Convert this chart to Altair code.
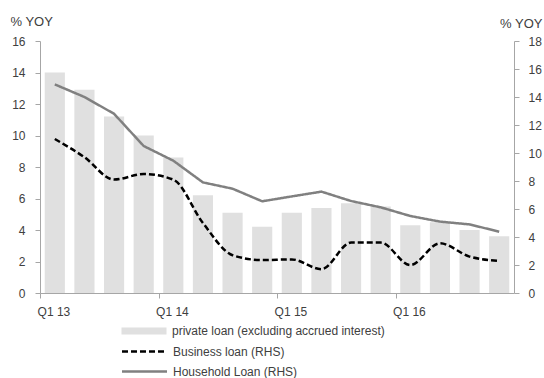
import altair as alt
import pandas as pd

quarters = ["Q1 13", "Q2 13", "Q3 13", "Q4 13",
            "Q1 14", "Q2 14", "Q3 14", "Q4 14",
            "Q1 15", "Q2 15", "Q3 15", "Q4 15",
            "Q1 16", "Q2 16", "Q3 16", "Q4 16"]
private_loan = [14.0, 12.9, 11.2, 10.0, 8.6, 6.2, 5.1, 4.2,
                5.1, 5.4, 5.7, 5.5, 4.3, 4.5, 4.0, 3.6]
business_loan = [11.0, 9.7, 8.1, 8.5, 8.1, 5.0, 2.7, 2.35,
                 2.4, 1.7, 3.6, 3.6, 2.0, 3.55, 2.6, 2.3]
household_loan = [14.9, 14.0, 12.8, 10.5, 9.45, 7.9, 7.45, 6.55,
                  6.9, 7.24, 6.57, 6.12, 5.5, 5.1, 4.9, 4.38]
tick_quarters = ["Q1 13", "Q1 14", "Q1 15", "Q1 16"]

S_PRIV = "private loan (excluding accrued interest)"
S_BUS = "Business loan (RHS)"
S_HH = "Household Loan (RHS)"

bars_df = pd.DataFrame({"quarter": quarters, "value": private_loan, "series": S_PRIV})
bus_df = pd.DataFrame({"quarter": quarters, "value": business_loan, "series": S_BUS})
hh_df = pd.DataFrame({"quarter": quarters, "value": household_loan, "series": S_HH})

FONT = "Liberation Sans"
TEXT = "#404040"
AXIS_C = "#a6a6a6"

common_legend = dict(
    title=None, orient="none", direction="vertical", symbolSize=100,
    symbolOffset=16, labelOffset=22, labelFont=FONT, labelFontSize=12,
    labelColor=TEXT, rowPadding=7, padding=0, labelLimit=400,
)

bar_legend = alt.Legend(legendX=82, legendY=284,
                        symbolType="M-4.5,-0.7H4.5V0.7H-4.5Z",
                        symbolStrokeWidth=0, **common_legend)
line_legend = alt.Legend(legendX=82, legendY=304,
                         symbolType="M-4.5,0H4.5",
                         symbolStrokeWidth=2.5, **common_legend)

x_enc = alt.X("quarter:N", sort=quarters,
              scale=alt.Scale(paddingInner=0.32, paddingOuter=0.16),
              axis=alt.Axis(values=tick_quarters, bandPosition=0, tickOffset=-4.74,
                            labelOffset=-13, labelAlign="left", labelAngle=0,
                            labelPadding=8, title=None, domainColor=AXIS_C,
                            tickColor=AXIS_C, tickSize=5, labelColor=TEXT,
                            labelFont=FONT, labelFontSize=12, labelOverlap=False))

bars = alt.Chart(bars_df).mark_bar().encode(
    x=x_enc,
    y=alt.Y("value:Q", scale=alt.Scale(domain=[0, 16]),
            axis=alt.Axis(values=list(range(0, 17, 2)), title="% YOY", titleAngle=0,
                          titleX=-30, titleY=-20, titleAlign="left", titleBaseline="middle",
                          titleFont=FONT, titleFontSize=13, titleFontWeight="normal",
                          titleColor=TEXT, grid=False, tickSize=5, labelPadding=10,
                          domainColor=AXIS_C, tickColor=AXIS_C, labelColor=TEXT,
                          labelFont=FONT, labelFontSize=12)),
    fill=alt.Fill("series:N", scale=alt.Scale(domain=[S_PRIV], range=["#e0e0e0"]),
                  legend=bar_legend),
)

y_right = alt.Y("value:Q", scale=alt.Scale(domain=[0, 18]),
                axis=alt.Axis(orient="right", values=list(range(0, 19, 2)), title="% YOY",
                              titleAngle=0, titleX=28, titleY=-18, titleAlign="right",
                              titleBaseline="middle", titleFont=FONT, titleFontSize=13,
                              titleFontWeight="normal", titleColor=TEXT, grid=False,
                              tickSize=5, labelPadding=9, domainColor=AXIS_C,
                              tickColor=AXIS_C, labelColor=TEXT, labelFont=FONT,
                              labelFontSize=12))
stroke_enc = alt.Stroke("series:N", scale=alt.Scale(domain=[S_BUS, S_HH],
                                                    range=["#000000", "#808080"]),
                        legend=line_legend)
dash_enc = alt.StrokeDash("series:N",
                          scale=alt.Scale(domain=[S_BUS, S_HH], range=[[6, 3], [1, 0]]),
                          legend=line_legend)

bus_line = alt.Chart(bus_df).mark_line(strokeWidth=2.5, interpolate="monotone").encode(
    x=x_enc, y=y_right, stroke=stroke_enc, strokeDash=dash_enc)
hh_line = alt.Chart(hh_df).mark_line(strokeWidth=2.5, interpolate="linear").encode(
    x=x_enc, y=y_right, stroke=stroke_enc, strokeDash=dash_enc)

lines = alt.layer(bus_line, hh_line)

chart = alt.layer(bars, lines).resolve_scale(y="independent").properties(
    width=474, height=252,
    autosize=alt.AutoSizeParams(type="none"),
    padding={"left": 40, "top": 41, "right": 30, "bottom": 85},
    background="white",
).configure_view(stroke=None)

chart.save("out.html", embed_options={"renderer": "svg", "actions": False})
